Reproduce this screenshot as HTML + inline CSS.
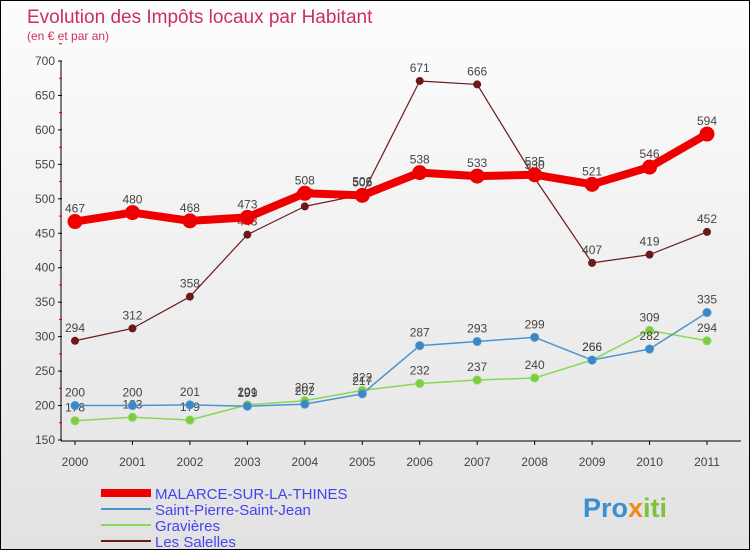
<!DOCTYPE html>
<html><head><meta charset="utf-8"><style>
body{margin:0;width:750px;height:550px;overflow:hidden;font-family:"Liberation Sans",sans-serif}
#wrap{position:relative;width:748px;height:548px;border:1px solid #000;background:linear-gradient(#fdfdfd,#e2e2e2)}
</style></head><body>
<div id="wrap">
<svg id="chart" width="748" height="548"></svg>
</div>
<script>
const years=["2000","2001","2002","2003","2004","2005","2006","2007","2008","2009","2010","2011"];
const malarce=[467,480,468,473,508,505,538,533,535,521,546,594];
const stPierre=[200,200,201,199,202,217,287,293,299,266,282,335];
const gravieres=[178,183,179,201,207,222,232,237,240,266,309,294];
const salelles=[294,312,358,448,489,506,671,666,530,407,419,452];
const yTicks=[150,200,250,300,350,400,450,500,550,600,650,700];
const NS="http://www.w3.org/2000/svg";
const svg=document.getElementById('chart');
const x=i=>74+i*(632/11);
const y=v=>439-(v-150)*(379/550);
function el(t,a,p){const e=document.createElementNS(NS,t);for(const k in a)e.setAttribute(k,a[k]);(p||svg).appendChild(e);return e;}
function txt(s,a){const e=el('text',a);e.textContent=s;return e;}
let t=txt("Evolution des Impôts locaux par Habitant",{x:26,y:22,'font-size':19,fill:'#c8325a'});


t=txt("(en € et par an)",{x:26,y:39,'font-size':12,fill:'#c8325a'});


let ax=el('line',{x1:60,y1:y(700),x2:60,y2:y(150),stroke:'#000'});


ax=el('line',{x1:60,y1:y(150)+1,x2:740,y2:y(150)+1,stroke:'#000'});


yTicks.forEach(v=>{
 el('line',{x1:57,x2:61,y1:y(v),y2:y(v),stroke:'#000'});
 el('line',{x1:58,x2:61,y1:y(v+25),y2:y(v+25),stroke:'#d00'});
 const l=txt(v,{x:54,y:y(v)+4,'font-size':12,fill:'#444','text-anchor':'end'});
 
 
});
years.forEach((yr,i)=>{
 el('line',{x1:x(i),x2:x(i),y1:y(150)+1,y2:y(150)+5,stroke:'#000'});
 const l=txt(yr,{x:x(i),y:465,'font-size':12,fill:'#444','text-anchor':'middle'});
 
 
});
function series(d,color,w,r,dot,name){
 const g=el('g',{});
 
 
 el('polyline',{points:d.map((v,i)=>x(i)+','+y(v)).join(' '),fill:'none',stroke:color,'stroke-width':w,'stroke-linejoin':'round'},g);
 d.forEach((v,i)=>{
  const c=el('circle',{cx:x(i),cy:y(v),r:r,fill:dot,stroke:color,'stroke-width':1},g);
  
  
  const l=txt(v,{x:x(i),y:y(v)-9,'font-size':12,fill:'#444','text-anchor':'middle'});
  g.appendChild(l);
 });
}
series(salelles,'#6b1a1a',1.2,3.5,'#6b1a1a','series-les-salelles');
series(gravieres,'#88d855',1.5,4,'#7ccc44','series-gravieres');
series(stPierre,'#4c94cc',1.5,4,'#3b88c8','series-saint-pierre');
series(malarce,'#ee0000',8,7,'#ee0000','series-malarce');
const leg=[["MALARCE-SUR-LA-THINES","#ee0000",8],["Saint-Pierre-Saint-Jean","#4c94cc",2],["Gravières","#88d855",2],["Les Salelles","#6b1a1a",2]];
leg.forEach((L,i)=>{
 const g=el('g',{});
 
 
 const yy=492+i*16;
 el('line',{x1:100,x2:150,y1:yy,y2:yy,stroke:L[1],'stroke-width':L[2]},g);
 const l=txt(L[0],{x:154,y:yy+6,'font-size':15,fill:'#4444ee'});g.appendChild(l);
});
const lg=el('text',{x:582,y:516,'font-size':27,'font-weight':'bold'});


[["Pro","#3a8fd0"],["x","#f08a1c"],["iti","#7cc43c"]].forEach(p=>{const s=el('tspan',{fill:p[1]},lg);s.textContent=p[0];});
</script>
</body></html>
